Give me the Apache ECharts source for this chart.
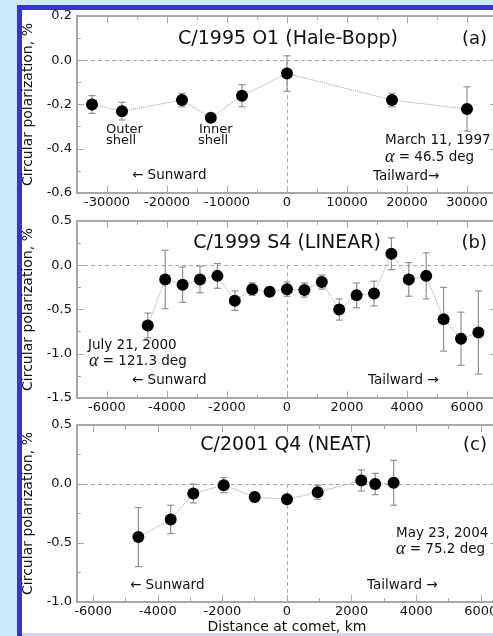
<!DOCTYPE html>
<html><head><meta charset="utf-8">
<script src="https://cdn.jsdelivr.net/npm/echarts@6/dist/echarts.min.js"></script>
<style>html,body{margin:0;padding:0;background:#cce8fa}#c{width:493px;height:636px}</style>
</head><body><div id="c"></div>
<script>
// ---------- Panel (a): C/1995 O1 (Hale-Bopp) ----------
const aDist = [-32500, -27500, -17500, -12700, -7500, 0, 17500, 30000];
const aPol  = [-0.20, -0.23, -0.18, -0.26, -0.16, -0.06, -0.18, -0.22];
const aErr  = [0.04, 0.04, 0.03, 0.01, 0.05, 0.08, 0.03, 0.10];
const aXMajor = [-30000, -20000, -10000, 0, 10000, 20000, 30000];
const aXMinor = [-25000, -15000, -5000, 5000, 15000, 25000];
const aYMajor = [-0.6, -0.4, -0.2, 0.0, 0.2];
const aYMinor = [-0.5, -0.3, -0.1, 0.1];

// ---------- Panel (b): C/1999 S4 (LINEAR) ----------
const bDist = [-4640, -4060, -3480, -2900, -2320, -1740, -1160, -580, 0, 580, 1160, 1740, 2320, 2900, 3480, 4060, 4640, 5220, 5800, 6380];
const bPol  = [-0.68, -0.16, -0.22, -0.16, -0.12, -0.40, -0.27, -0.30, -0.27, -0.28, -0.19, -0.50, -0.34, -0.32, 0.13, -0.16, -0.12, -0.61, -0.83, -0.76];
const bErr  = [0.14, 0.33, 0.20, 0.15, 0.14, 0.11, 0.07, 0.05, 0.08, 0.08, 0.08, 0.12, 0.14, 0.14, 0.18, 0.19, 0.26, 0.36, 0.30, 0.47];
const bXMajor = [-6000, -4000, -2000, 0, 2000, 4000, 6000];
const bXMinor = [-5000, -3000, -1000, 1000, 3000, 5000];
const bYMajor = [-1.5, -1.0, -0.5, 0.0, 0.5];
const bYMinor = [-1.25, -0.75, -0.25, 0.25];

// ---------- Panel (c): C/2001 Q4 (NEAT) ----------
const cDist = [-4600, -3600, -2900, -1960, -1000, 0, 950, 2300, 2730, 3300];
const cPol  = [-0.45, -0.30, -0.08, -0.01, -0.11, -0.13, -0.07, 0.03, 0.00, 0.01];
const cErr  = [0.25, 0.12, 0.08, 0.065, 0.04, 0.03, 0.06, 0.09, 0.09, 0.19];
const cXMajor = [-6000, -4000, -2000, 0, 2000, 4000, 6000];
const cXMinor = [-5000, -3000, -1000, 1000, 3000, 5000];
const cYMajor = [-1.0, -0.5, 0.0, 0.5];
const cYMinor = [-0.75, -0.25, 0.25];

const panels = [
  {dist:aDist, pol:aPol, err:aErr, xMaj:aXMajor, xMin:aXMinor, yMaj:aYMajor, yMin:aYMinor, xr:[-35000,35000], yr:[-0.6,0.2], top:16},
  {dist:bDist, pol:bPol, err:bErr, xMaj:bXMajor, xMin:bXMinor, yMaj:bYMajor, yMin:bYMinor, xr:[-7000,7000], yr:[-1.5,0.5], top:221},
  {dist:cDist, pol:cPol, err:cErr, xMaj:cXMajor, xMin:cXMinor, yMaj:cYMajor, yMin:cYMinor, xr:[-6500,6500], yr:[-1.0,0.5], top:425}
];

const FONT = '"DejaVu Sans", sans-serif';
const AX = '#a8a8a8';
const TXT = '#111';

function hiddenLine(){ return {show:false, onZero:false}; }
function shownLine(){ return {show:true, onZero:false, lineStyle:{color:AX, width:2}}; }

const grid = [], xAxis = [], yAxis = [], series = [];
panels.forEach((p, g) => {
  grid.push({left:77, top:p.top, width:420, height:177, containLabel:false, outerBoundsMode:'none'});
  const xb = {type:'value', gridIndex:g, min:p.xr[0], max:p.xr[1], splitLine:{show:false}};
  xAxis.push(Object.assign({}, xb, {
    position:'bottom', axisLine:shownLine(),
    axisTick:{show:true, inside:true, length:7, customValues:p.xMaj, lineStyle:{color:AX, width:1}},
    axisLabel:{show:true, customValues:p.xMaj, margin:3, color:TXT, fontSize:13, fontFamily:FONT, formatter:v=>String(v)},
    name: g===2 ? 'Distance at comet, km' : '', nameLocation:'middle', nameGap:18,
    nameTextStyle:{fontSize:14, fontFamily:FONT, color:TXT}
  }));
  xAxis.push(Object.assign({}, xb, {position:'bottom', axisLine:hiddenLine(), axisLabel:{show:false},
    axisTick:{show:true, inside:true, length:4, customValues:p.xMin, lineStyle:{color:AX, width:1}}}));
  xAxis.push(Object.assign({}, xb, {position:'top', axisLine:shownLine(), axisLabel:{show:false},
    axisTick:{show:true, inside:true, length:7, customValues:p.xMaj, lineStyle:{color:AX, width:1}}}));
  xAxis.push(Object.assign({}, xb, {position:'top', axisLine:hiddenLine(), axisLabel:{show:false},
    axisTick:{show:true, inside:true, length:4, customValues:p.xMin, lineStyle:{color:AX, width:1}}}));

  const yb = {type:'value', gridIndex:g, min:p.yr[0], max:p.yr[1], splitLine:{show:false}};
  yAxis.push(Object.assign({}, yb, {
    position:'left', axisLine:shownLine(),
    axisTick:{show:true, inside:true, length:7, customValues:p.yMaj, lineStyle:{color:AX, width:1}},
    axisLabel:{show:true, customValues:p.yMaj, margin:5, color:TXT, fontSize:13, fontFamily:FONT, formatter:v=>v.toFixed(1)},
    name:'Circular polarization, %', nameLocation:'middle', nameGap:39, nameRotate:90,
    nameTextStyle:{fontSize:14, fontFamily:FONT, color:TXT}
  }));
  yAxis.push(Object.assign({}, yb, {position:'left', axisLine:hiddenLine(), axisLabel:{show:false},
    axisTick:{show:true, inside:true, length:4, customValues:p.yMin, lineStyle:{color:AX, width:1}}}));
  yAxis.push(Object.assign({}, yb, {position:'right', axisLine:shownLine(), axisLabel:{show:false},
    axisTick:{show:true, inside:true, length:7, customValues:p.yMaj, lineStyle:{color:AX, width:1}}}));
  yAxis.push(Object.assign({}, yb, {position:'right', axisLine:hiddenLine(), axisLabel:{show:false},
    axisTick:{show:true, inside:true, length:4, customValues:p.yMin, lineStyle:{color:AX, width:1}}}));

  const xi = g*4, yi = g*4;
  series.push({
    type:'custom', xAxisIndex:xi, yAxisIndex:yi, silent:true, z:2,
    data: p.dist.map((d,i)=>[d, p.pol[i], p.err[i]]),
    renderItem: function(params, api){
      const x = api.value(0), y = api.value(1), e = api.value(2);
      const t = api.coord([x, y+e]), b = api.coord([x, y-e]);
      const c = 3.5, st = {stroke:'#909090', lineWidth:1.2};
      return {type:'group', children:[
        {type:'line', shape:{x1:t[0], y1:t[1], x2:b[0], y2:b[1]}, style:st},
        {type:'line', shape:{x1:t[0]-c, y1:t[1], x2:t[0]+c, y2:t[1]}, style:st},
        {type:'line', shape:{x1:b[0]-c, y1:b[1], x2:b[0]+c, y2:b[1]}, style:st}
      ]};
    }
  });
  series.push({
    type:'line', xAxisIndex:xi, yAxisIndex:yi, z:6,
    data: p.dist.map((d,i)=>[d, p.pol[i]]),
    symbol:'circle', symbolSize:12, itemStyle:{color:'#000', borderWidth:0},
    lineStyle:{color:'#999', width:1, type:'dotted'},
    markLine:{silent:true, symbol:['none','none'], label:{show:false}, animation:false, z:1,
      lineStyle:{color:'#aaa', width:1, type:[4,3]},
      data:[
        [{coord:[p.xr[0],0]},{coord:[p.xr[1],0]}],
        [{coord:[0,0]},{coord:[0,p.yr[0]]}]
      ]}
  });
});

function txt(x, y, text, size, align){
  return {type:'text', x:x, y:y, silent:true, z:10, style:{text:text, font:size+'px '+FONT, fill:TXT,
    textAlign:align||'left', textVerticalAlign:'middle', align:align||'left', verticalAlign:'middle'}};
}
function alpha(x, y, rest){
  return {type:'text', x:x, y:y, silent:true, z:10, style:{text:'{a|α}{b| = '+rest+'}',
    textAlign:'left', textVerticalAlign:'middle', align:'left', verticalAlign:'middle',
    rich:{a:{fontFamily:'"Liberation Serif", serif', fontSize:18, fontStyle:'italic', fill:TXT},
          b:{fontFamily:FONT, fontSize:13.5, fill:TXT}}}};
}

const graphic = [
  {type:'rect', silent:true, z:-100, shape:{x:17, y:5, width:490, height:640}, style:{fill:'#3535c8'}},
  {type:'rect', silent:true, z:-99, shape:{x:22, y:10, width:480, height:623}, style:{fill:'#ffffff'}},
  {type:'rect', silent:true, z:-99, shape:{x:22, y:633, width:480, height:4}, style:{fill:'#d6d6f4'}},
  // titles
  txt(288, 39, 'C/1995 O1 (Hale-Bopp)', 19, 'center'),
  txt(487, 39, '(a)', 18, 'right'),
  txt(287, 243, 'C/1999 S4 (LINEAR)', 19, 'center'),
  txt(487, 243, '(b)', 18, 'right'),
  txt(286, 445, 'C/2001 Q4 (NEAT)', 19, 'center'),
  txt(487, 445, '(c)', 18, 'right'),
  // panel a annotations
  txt(106, 130, 'Outer', 13), txt(106, 141, 'shell', 13),
  txt(199, 130, 'Inner', 13), txt(198, 141, 'shell', 13),
  txt(132, 175, '← Sunward', 13.5),
  txt(385, 140, 'March 11, 1997', 13.5),
  alpha(385, 157, '46.5 deg'),
  txt(373, 176, 'Tailward→', 13.5),
  // panel b annotations
  txt(88, 345, 'July 21, 2000', 13.5),
  alpha(89, 361, '121.3 deg'),
  txt(132, 380, '← Sunward', 13.5),
  txt(368, 380, 'Tailward →', 13.5),
  // panel c annotations
  txt(396, 533, 'May 23, 2004', 13.5),
  alpha(396, 549, '75.2 deg'),
  txt(130, 585, '← Sunward', 13.5),
  txt(367, 585, 'Tailward →', 13.5)
];

const chart = echarts.init(document.getElementById('c'), null, {renderer:'canvas'});
chart.setOption({
  animation:false,
  backgroundColor:'#cce8fa',
  grid, xAxis, yAxis, series, graphic
});
</script>
</body></html>
